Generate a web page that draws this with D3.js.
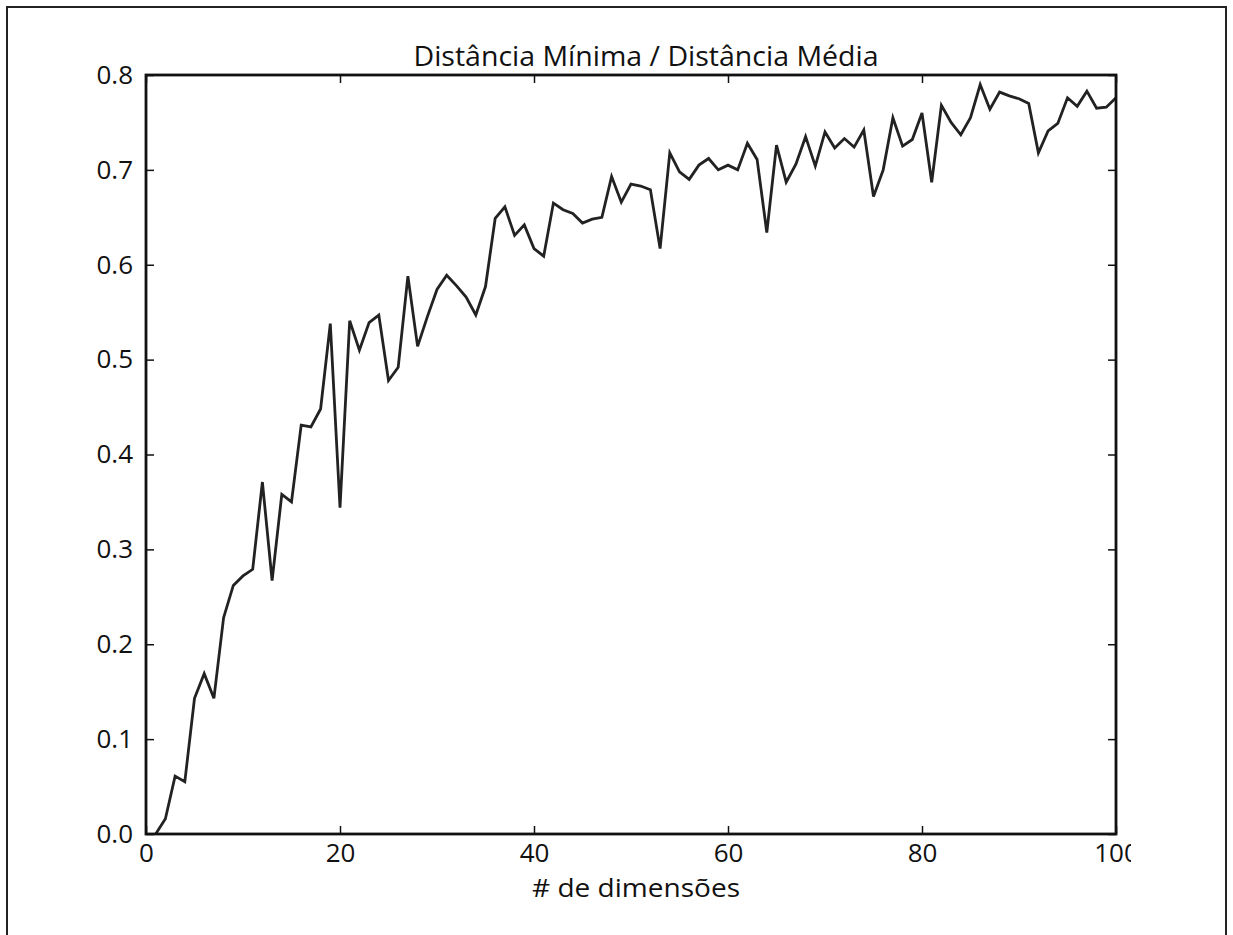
<!DOCTYPE html>
<html>
<head>
<meta charset="utf-8">
<script src="https://cdn.jsdelivr.net/npm/d3@7"></script>
<style>
  body { margin: 0; background: #fff; }
  svg text { font-family: "Open Sans", sans-serif; fill: #111; }
</style>
</head>
<body>
<svg width="1233" height="935"></svg>
<script>
// number of dimensions (x) and ratio min distance / mean distance (y)
const dims = d3.range(1, 101);
const ratio = [
  0.000, 0.016, 0.061, 0.055, 0.143, 0.169, 0.143, 0.228, 0.262, 0.272,
  0.279, 0.371, 0.267, 0.358, 0.350, 0.431, 0.429, 0.448, 0.538, 0.344,
  0.541, 0.510, 0.539, 0.547, 0.478, 0.492, 0.588, 0.514, 0.545, 0.574,
  0.589, 0.578, 0.566, 0.547, 0.577, 0.649, 0.661, 0.631, 0.642, 0.617,
  0.609, 0.665, 0.658, 0.654, 0.644, 0.648, 0.650, 0.693, 0.666, 0.685,
  0.683, 0.679, 0.617, 0.718, 0.698, 0.690, 0.705, 0.712, 0.700, 0.705,
  0.700, 0.728, 0.711, 0.634, 0.726, 0.687, 0.706, 0.735, 0.704, 0.740,
  0.723, 0.733, 0.724, 0.742, 0.672, 0.700, 0.755, 0.725, 0.732, 0.760,
  0.687, 0.768, 0.750, 0.737, 0.755, 0.790, 0.764, 0.782, 0.778, 0.775,
  0.770, 0.718, 0.741, 0.749, 0.776, 0.767, 0.783, 0.765, 0.766, 0.776
];
const xTicks = [0, 20, 40, 60, 80, 100];
const yTicks = [0, 0.1, 0.2, 0.3, 0.4, 0.5, 0.6, 0.7, 0.8];

const title = "Distância Mínima / Distância Média";
const xLabel = "# de dimensões";

var svg = d3.select("svg");

// outer frame (top, left, right)
svg.append("path")
  .attr("d", "M7,935 V7 H1226 V935")
  .attr("fill", "none")
  .attr("stroke", "#222")
  .attr("stroke-width", 2);

const pLeft = 146, pRight = 1116, pTop = 75, pBottom = 834;

var x = d3.scaleLinear().domain([0, 100]).range([pLeft, pRight]);
var y = d3.scaleLinear().domain([0, 0.8]).range([pBottom, pTop]);

// clip so the "100" label gets cut like in the original
svg.append("clipPath").attr("id", "figclip")
  .append("rect").attr("x", 0).attr("y", 0).attr("width", 1131).attr("height", 935);

var g = svg.append("g").attr("clip-path", "url(#figclip)");

function styleAxis(sel, showLabels) {
  sel.select(".domain").remove();
  sel.selectAll(".tick line").attr("stroke", "#111").attr("stroke-width", 1.5);
  sel.selectAll(".tick text").attr("font-size", 26).attr("fill", "#111");
  if (!showLabels) sel.selectAll(".tick text").remove();
}

// bottom axis
g.append("g")
  .attr("transform", "translate(0," + pBottom + ")")
  .call(d3.axisBottom(x).tickValues(xTicks).tickFormat(d3.format("d")).tickSizeInner(-8).tickSizeOuter(0).tickPadding(10))
  .call(styleAxis, true);

// top axis (ticks only)
g.append("g")
  .attr("transform", "translate(0," + pTop + ")")
  .call(d3.axisTop(x).tickValues(xTicks).tickSizeInner(-8).tickSizeOuter(0))
  .call(styleAxis, false);

// left axis
g.append("g")
  .attr("transform", "translate(" + pLeft + ",0)")
  .call(d3.axisLeft(y).tickValues(yTicks).tickFormat(d3.format(".1f")).tickSizeInner(-8).tickSizeOuter(0).tickPadding(13))
  .call(styleAxis, true);

// right axis (ticks only)
g.append("g")
  .attr("transform", "translate(" + pRight + ",0)")
  .call(d3.axisRight(y).tickValues(yTicks).tickSizeInner(-8).tickSizeOuter(0))
  .call(styleAxis, false);

// the data line
var line = d3.line()
  .x(function (d, i) { return x(dims[i]); })
  .y(function (d) { return y(d); });

g.append("path")
  .datum(ratio)
  .attr("d", line)
  .attr("fill", "none")
  .attr("stroke", "#222")
  .attr("stroke-width", 2.8)
  .attr("stroke-linejoin", "miter");

// axes frame
g.append("rect")
  .attr("x", pLeft).attr("y", pTop)
  .attr("width", pRight - pLeft).attr("height", pBottom - pTop)
  .attr("fill", "none")
  .attr("stroke", "#111")
  .attr("stroke-width", 2.8);

// title and x label
g.append("text")
  .attr("x", 646).attr("y", 66)
  .attr("text-anchor", "middle")
  .attr("font-size", 28)
  .attr("textLength", 465)
  .attr("lengthAdjust", "spacingAndGlyphs")
  .text(title);

g.append("text")
  .attr("x", 636).attr("y", 897)
  .attr("text-anchor", "middle")
  .attr("font-size", 26)
  .attr("textLength", 208)
  .attr("lengthAdjust", "spacingAndGlyphs")
  .text(xLabel);
</script>
</body>
</html>
